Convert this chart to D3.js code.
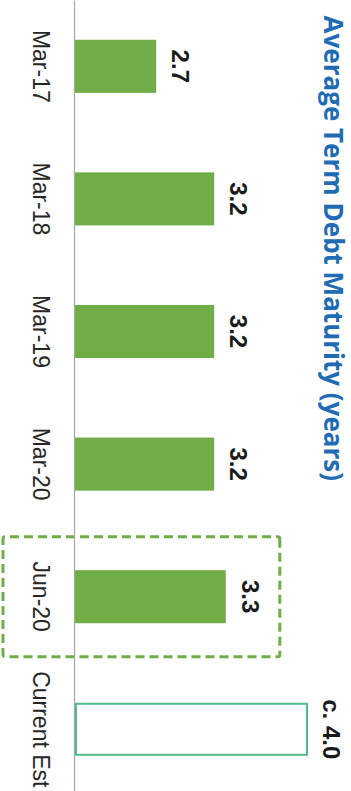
<!DOCTYPE html>
<html>
<head>
<meta charset="utf-8">
<script src="https://cdn.jsdelivr.net/npm/d3@7/dist/d3.min.js"></script>
<style>
  html, body { margin: 0; padding: 0; background: #ffffff; }
  svg { display: block; }
</style>
</head>
<body>
<svg id="chart" width="351" height="791"></svg>
<script>
// Average term debt maturity by reporting date (years)
const categories = ["Mar-17", "Mar-18", "Mar-19", "Mar-20", "Jun-20", "Current Est"];
const values = [2.7, 3.2, 3.2, 3.2, 3.3, 4.0];
const valueLabels = ["2.7", "3.2", "3.2", "3.2", "3.3", "c. 4.0"];
const isEstimate = [false, false, false, false, false, true];
const highlighted = ["Jun-20"];
const valueDomain = [2.0, 4.0];
const title = "Average Term Debt Maturity (years)";

const W = 351, H = 791;
// The column chart is laid out in an upright frame (H wide, W tall)
// and then turned a quarter turn clockwise onto the page.
const svg = d3.select("#chart");
const g = svg.append("g").attr("transform", `translate(${W},0) rotate(90)`);

const baseV = 276;
const x = d3.scaleBand().domain(categories).range([0, 795.6])
  .paddingInner(0.6).paddingOuter(0.3);
const y = d3.scaleLinear().domain(valueDomain).range([baseV, 44]);

const green = "#70ad47";
const estColor = "#4dbd8c";

// Highlight box around the latest reported period
highlighted.forEach(c => {
  const cx = x(c) + x.bandwidth() / 2;
  const half = x.step() * 0.452;
  const idx = categories.indexOf(c);
  const top = y(values[idx]) - 54;
  g.append("rect")
    .attr("x", cx - half)
    .attr("y", top)
    .attr("width", half * 2)
    .attr("height", W - 3 - top)
    .attr("rx", 2)
    .attr("fill", "none")
    .attr("stroke", green)
    .attr("stroke-width", 3)
    .attr("stroke-dasharray", "9 5");
});

// Bars
const data = categories.map((c, i) => ({ c, v: values[i], label: valueLabels[i], est: isEstimate[i] }));
g.selectAll("rect.bar").data(data).join("rect")
  .attr("class", "bar")
  .attr("x", d => x(d.c) + (d.est ? 1 : 0))
  .attr("width", d => x.bandwidth() - (d.est ? 2 : 0))
  .attr("y", d => y(d.v))
  .attr("height", d => baseV - y(d.v) - (d.est ? 1 : 0))
  .attr("fill", d => d.est ? "#ffffff" : green)
  .attr("stroke", d => d.est ? estColor : "none")
  .attr("stroke-width", d => d.est ? 2 : 0);

// Category axis
const axis = g.append("g")
  .attr("transform", `translate(0,${baseV})`)
  .call(d3.axisBottom(x).tickSize(0).tickSizeOuter(0).tickPadding(26));
axis.select(".domain").attr("stroke", "#a6a6a6").attr("stroke-width", 1.2);
axis.selectAll("text")
  .attr("font-family", "'Liberation Sans', Arial, sans-serif")
  .attr("font-size", 23)
  .attr("fill", "#262626");

// Value labels
g.selectAll("text.val").data(data).join("text")
  .attr("class", "val")
  .attr("x", d => x(d.c) + x.bandwidth() / 2)
  .attr("y", d => y(d.v) - 16)
  .attr("text-anchor", "middle")
  .attr("font-family", "'Liberation Sans', Arial, sans-serif")
  .attr("font-weight", "bold")
  .attr("font-size", 24)
  .attr("fill", "#1a1a1a")
  .text(d => d.label);

// Title
g.append("text")
  .attr("x", 481)
  .attr("y", 27)
  .attr("text-anchor", "end")
  .attr("font-family", "'Open Sans', sans-serif")
  .attr("font-weight", "bold")
  .attr("font-size", 26)
  .attr("fill", "#1f6cb4")
  .text(title);
</script>
</body>
</html>
